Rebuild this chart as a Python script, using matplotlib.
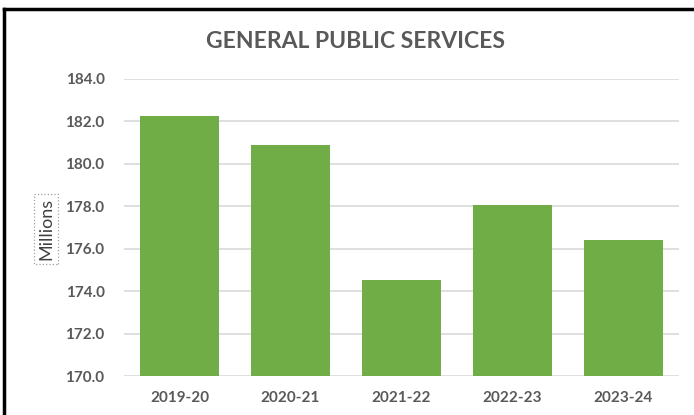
import matplotlib.pyplot as plt
from matplotlib.lines import Line2D

# spending per year, in millions
years = ["2019-20", "2020-21", "2021-22", "2022-23", "2023-24"]
spend = [182.25, 180.88, 174.52, 178.06, 176.42]
yticks = [170, 172, 174, 176, 178, 180, 182, 184]

plt.rcParams['font.family'] = ['Lato', 'DejaVu Sans']

W, H = 694, 415
fig = plt.figure(figsize=(W / 100, H / 100), dpi=100)
ax = fig.add_axes([124 / W, (H - 376) / H, (679 - 124) / W, (376 - 79) / H])

ax.bar(range(len(years)), spend, width=0.72, color="#70ad47", zorder=2)
ax.set_xlim(-0.5, len(years) - 0.5)
ax.set_ylim(170, 184)
ax.set_yticks(yticks)
ax.set_yticklabels([f"{v:.1f}" for v in yticks])
ax.set_xticks(range(len(years)))
ax.set_xticklabels(years)

ax.grid(axis="y", color="#d9d9d9", linewidth=1.2, zorder=0)
for s in ax.spines.values():
    s.set_visible(False)
ax.tick_params(length=0, labelsize=11, labelcolor="#595959")
ax.tick_params(axis="y", pad=14)
ax.tick_params(axis="x", pad=11)
for lab in ax.get_xticklabels() + ax.get_yticklabels():
    lab.set_fontweight("bold")

fig.text(355 / W, 1 - 41 / H, "GENERAL PUBLIC SERVICES", ha="center", va="center",
         fontsize=16.5, fontweight="bold", color="#595959")
fig.text(46 / W, 1 - 229 / H, "Millions", rotation=90, ha="center", va="center",
         fontsize=13, color="#404040",
         bbox=dict(boxstyle="square,pad=0.2", fc="none", ec="#a0a0a0", ls=":", lw=0.9))

# black frame edges along the top and left
fig.add_artist(Line2D([4 / W, 1.0], [1 - 9 / H, 1 - 9 / H], transform=fig.transFigure,
                      color="black", lw=2.5))
fig.add_artist(Line2D([4 / W, 4 / W], [0.0, 1 - 9 / H], transform=fig.transFigure,
                      color="black", lw=2.5))

fig.savefig("out.png", dpi=100, facecolor="white")
